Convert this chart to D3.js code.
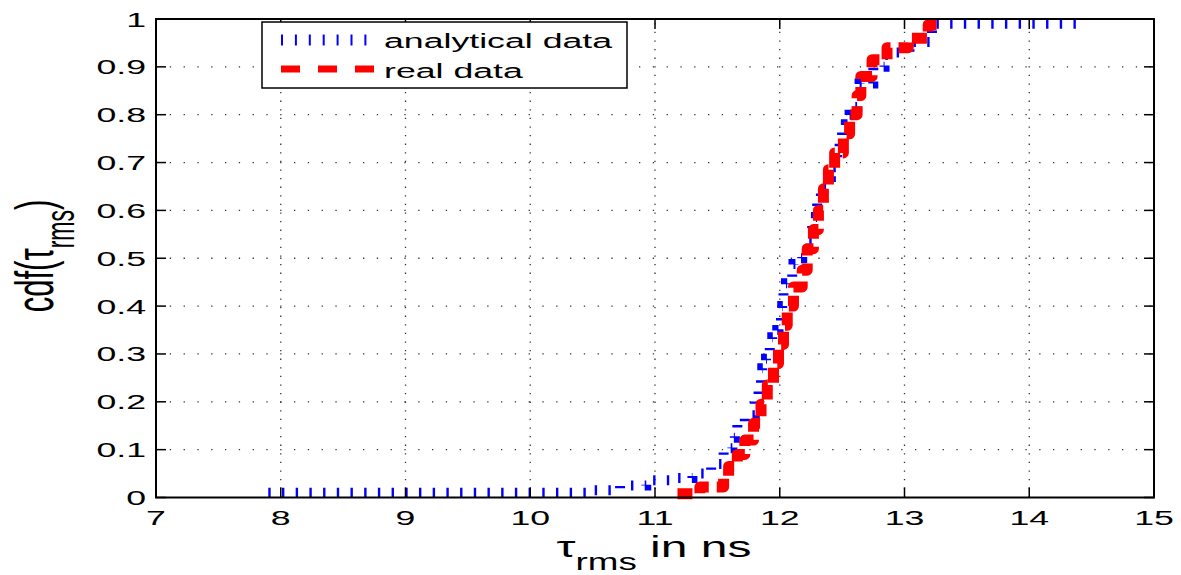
<!DOCTYPE html>
<html>
<head>
<meta charset="utf-8">
<script src="https://cdn.jsdelivr.net/npm/d3@7"></script>
<style>
  html, body { margin: 0; padding: 0; background: #fff; }
  svg { display: block; font-family: "Liberation Sans", Arial, sans-serif; }
</style>
</head>
<body>
<svg id="chart" width="1181" height="575"></svg>
<script>
// ---- data ----
const xTicks = [7, 8, 9, 10, 11, 12, 13, 14, 15];
const xTickLabels = ["7", "8", "9", "10", "11", "12", "13", "14", "15"];
const yTicks = [0, 0.1, 0.2, 0.3, 0.4, 0.5, 0.6, 0.7, 0.8, 0.9, 1];
const yTickLabels = ["0", "0.1", "0.2", "0.3", "0.4", "0.5", "0.6", "0.7", "0.8", "0.9", "1"];

// empirical CDF steps: position (ns) where the step occurs, and CDF level after it
const analyticalX = [7.90, 10.45, 10.72, 10.93, 11.14, 11.30, 11.45, 11.55, 11.62, 11.64, 11.66, 11.72,
  11.80, 11.83, 11.85, 11.86, 11.88, 11.89, 11.91, 11.92, 11.94, 11.98, 11.99, 12.01, 12.02, 12.03,
  12.05, 12.10, 12.11, 12.14, 12.18, 12.23, 12.26, 12.29, 12.30, 12.33, 12.34, 12.38, 12.41, 12.45,
  12.46, 12.48, 12.50, 12.53, 12.56, 12.58, 12.62, 12.64, 12.75, 12.84, 12.92, 13.04, 13.22];
const analyticalY = [0.010, 0.015, 0.025, 0.036, 0.041, 0.050, 0.070, 0.103, 0.125, 0.140, 0.155, 0.172,
  0.205, 0.235, 0.250, 0.270, 0.280, 0.290, 0.300, 0.315, 0.335, 0.350, 0.367, 0.385, 0.400, 0.430,
  0.448, 0.470, 0.488, 0.500, 0.520, 0.540, 0.570, 0.586, 0.615, 0.636, 0.653, 0.670, 0.690, 0.705,
  0.730, 0.747, 0.764, 0.780, 0.800, 0.816, 0.835, 0.865, 0.900, 0.925, 0.930, 0.952, 0.990];
const analyticalEndX = 14.45;

const realX = [11.18, 11.36, 11.55, 11.59, 11.66, 11.72, 11.79, 11.85, 11.90, 11.95, 11.99, 12.03,
  12.06, 12.11, 12.18, 12.22, 12.27, 12.31, 12.35, 12.39, 12.44, 12.51, 12.56, 12.62, 12.65, 12.74,
  12.86, 13.03, 13.19];
const realY = [0.008, 0.022, 0.040, 0.065, 0.090, 0.120, 0.155, 0.195, 0.235, 0.280, 0.320, 0.360,
  0.400, 0.440, 0.475, 0.520, 0.560, 0.600, 0.645, 0.685, 0.720, 0.760, 0.800, 0.840, 0.880, 0.915,
  0.940, 0.960, 0.988];
const realEndX = 13.27;

const seriesNames = ["analytical data", "real data"];

// ---- layout ----
const svg = d3.select("#chart");
const plot = { left: 156, right: 1154, top: 19, bottom: 497.5 };
const stretch = 1.7; // wide glyph rendering of the labels

const x = d3.scaleLinear().domain([7, 15]).range([plot.left, plot.right]);
const y = d3.scaleLinear().domain([0, 1]).range([plot.bottom, plot.top]);

// ---- grid ----
const grid = svg.append("g");
grid.selectAll("line.vg").data(xTicks.slice(1, -1)).join("line")
  .attr("x1", d => x(d)).attr("x2", d => x(d))
  .attr("y1", y(0)).attr("y2", y(1))
  .attr("stroke", "#333").attr("stroke-width", 1.3)
  .attr("stroke-dasharray", "1.3,7.3");
grid.selectAll("line.hg").data(yTicks.slice(1, -1)).join("line")
  .attr("x1", x(7)).attr("x2", x(15))
  .attr("y1", d => y(d)).attr("y2", d => y(d))
  .attr("stroke", "#333").attr("stroke-width", 1.3)
  .attr("stroke-dasharray", "1.3,12.5");

// ---- series ----
const stairs = d3.line().x(d => x(d[0])).y(d => y(d[1])).curve(d3.curveStepAfter);
const stepPoints = (xs, ys, endX) => {
  const pts = xs.map((v, i) => [v, ys[i]]);
  pts.push([endX, ys[ys.length - 1]]);
  return pts;
};

svg.append("path")
  .datum(stepPoints(analyticalX, analyticalY, analyticalEndX))
  .attr("d", stairs)
  .attr("fill", "none")
  .attr("stroke", "#0000ff")
  .attr("stroke-width", 10)
  .attr("stroke-dasharray", "2.4,11.3");

svg.append("path")
  .datum(stepPoints(realX, realY, realEndX))
  .attr("d", stairs)
  .attr("fill", "none")
  .attr("stroke", "#ff0000")
  .attr("stroke-width", 11)
  .attr("stroke-linejoin", "round")
  .attr("stroke-dasharray", "15,8");

// ---- axes box and ticks ----
svg.append("rect")
  .attr("x", plot.left).attr("y", plot.top)
  .attr("width", plot.right - plot.left).attr("height", plot.bottom - plot.top)
  .attr("fill", "none").attr("stroke", "#000").attr("stroke-width", 2);

const tickLen = 10;
const ticks = svg.append("g").attr("stroke", "#000").attr("stroke-width", 1.5);
xTicks.forEach(v => {
  ticks.append("line").attr("x1", x(v)).attr("x2", x(v)).attr("y1", y(0)).attr("y2", y(0) - tickLen);
  ticks.append("line").attr("x1", x(v)).attr("x2", x(v)).attr("y1", y(1)).attr("y2", y(1) + tickLen);
});
yTicks.forEach(v => {
  ticks.append("line").attr("x1", x(7)).attr("x2", x(7) + tickLen).attr("y1", y(v)).attr("y2", y(v));
  ticks.append("line").attr("x1", x(15)).attr("x2", x(15) - tickLen).attr("y1", y(v)).attr("y2", y(v));
});

// ---- tick labels ----
xTicks.forEach((v, i) => {
  svg.append("g").attr("transform", `translate(${x(v)},525) scale(${stretch},1)`)
    .append("text").attr("text-anchor", "middle").attr("font-size", 21).attr("fill", "#000")
    .text(xTickLabels[i]);
});
yTicks.forEach((v, i) => {
  svg.append("g").attr("transform", `translate(146,${y(v) + 7.5}) scale(${stretch},1)`)
    .append("text").attr("text-anchor", "end").attr("font-size", 21).attr("fill", "#000")
    .text(yTickLabels[i]);
});

// ---- axis titles ----
const xTitle = svg.append("g").attr("transform", "translate(654,557) scale(1.6,1)")
  .append("text").attr("text-anchor", "middle").attr("font-size", 30).attr("fill", "#000");
xTitle.append("tspan").text("τ");
xTitle.append("tspan").attr("font-size", 23).attr("dy", 13).text("rms");
xTitle.append("tspan").attr("dy", -13).text(" in ns");

const yTitle = svg.append("g").attr("transform", "translate(53,256) rotate(-90) scale(1,1.75)")
  .append("text").attr("text-anchor", "middle").attr("font-size", 31).attr("fill", "#000");
yTitle.append("tspan").text("cdf(τ");
yTitle.append("tspan").attr("font-size", 23).attr("dy", 12).text("rms");
yTitle.append("tspan").attr("dy", -12).text(")");

// ---- legend ----
const legend = svg.append("g");
legend.append("rect").attr("x", 262).attr("y", 22).attr("width", 365).attr("height", 66)
  .attr("fill", "#fff").attr("stroke", "#000").attr("stroke-width", 1.5);
legend.append("line").attr("x1", 281).attr("x2", 368).attr("y1", 40).attr("y2", 40)
  .attr("stroke", "#0000ff").attr("stroke-width", 11).attr("stroke-dasharray", "2,11.9");
legend.append("line").attr("x1", 281).attr("x2", 374).attr("y1", 69).attr("y2", 69)
  .attr("stroke", "#ff0000").attr("stroke-width", 7).attr("stroke-dasharray", "19,18");
[48, 78].forEach((yy, i) => {
  legend.append("g").attr("transform", `translate(384,${yy}) scale(${stretch},1)`)
    .append("text").attr("font-size", 21).attr("fill", "#000").text(seriesNames[i]);
});
</script>
</body>
</html>
